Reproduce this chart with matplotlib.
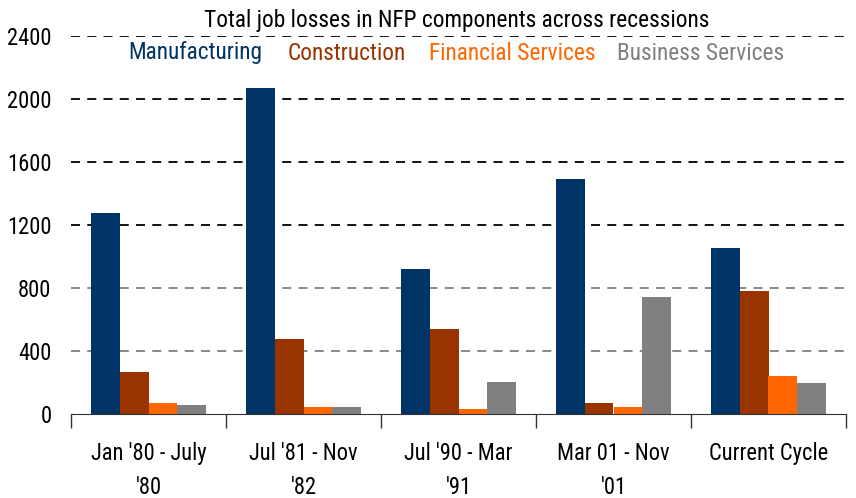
import matplotlib
matplotlib.use("Agg")
import matplotlib.pyplot as plt
from matplotlib import font_manager
from matplotlib.font_manager import FontProperties
import numpy as np

categories = ["Jan '80 - July\n'80", "Jul '81 - Nov\n'82", "Jul '90 - Mar\n'91", "Mar 01 - Nov\n'01", "Current Cycle"]
series_names = ["Manufacturing", "Construction", "Financial Services", "Business Services"]
manufacturing = [1275, 2070, 920, 1492, 1054]
construction = [267, 476, 540, 70, 781]
financial = [72, 44, 32, 44, 241]
business = [57, 44, 203, 743, 197]
yticks = [0, 400, 800, 1200, 1600, 2000, 2400]
colors = ["#003366", "#993300", "#FF6600", "#808080"]

# look for a condensed sans font (Arial Narrow look-alike)
cands = []
for f in font_manager.fontManager.ttflist:
    nm = f.name.lower()
    fn = f.fname.lower()
    if f.style != 'normal' or f.weight not in (400, 'normal', 'regular'):
        continue
    if 'serif' in nm and 'sans' not in nm:
        continue
    if 'mono' in nm or 'mono' in fn:
        continue
    if 'narrow' in nm or 'condensed' in nm or 'narrow' in fn or 'condensed' in fn \
            or str(f.stretch) in ('condensed', 'semi-condensed', '75', '87'):
        if 'bold' in fn or 'italic' in fn or 'oblique' in fn or 'light' in fn:
            continue
        cands.append(f)

def pri(f):
    nm = f.name.lower() + f.fname.lower()
    if 'liberation' in nm and 'narrow' in nm:
        return 0
    if 'roboto' in nm:
        return 1
    if 'open' in nm:
        return 2
    return 3

cands.sort(key=pri)
if cands:
    fp = FontProperties(fname=cands[0].fname)
    scale = 1.12
else:
    fp = FontProperties(family='Liberation Sans')
    scale = 1.0

def F(size):
    p = fp.copy()
    p.set_size(size * scale)
    return p

fig = plt.figure(figsize=(8.56, 4.98), dpi=100)
ax = fig.add_axes([71/856, 1-414/498, (846-71)/856, (414-36)/498])

data = [manufacturing, construction, financial, business]
x = np.arange(len(categories))
w = 0.187
for i, (vals, c, n) in enumerate(zip(data, colors, series_names)):
    ax.bar(x + (i - 1.5) * w, vals, width=w, color=c, label=n, zorder=3)

ax.set_ylim(0, 2400)
ax.set_xlim(-0.5, len(categories) - 0.5)
ax.set_yticks(yticks)
ax.set_yticklabels([str(t) for t in yticks], fontproperties=F(14.5))
ax.tick_params(axis='y', length=0, pad=14)
for t in yticks[1:]:
    ax.axhline(t, color='#000000' if t >= 1200 else '#808080', lw=1.3,
               ls=(0, (5, 4)), zorder=1)

ax.set_xticks(np.arange(len(categories) + 1) - 0.5)
ax.set_xticklabels([])
ax.tick_params(axis='x', which='major', length=10, width=1, color='#333333', direction='out')
ax.set_xticks(x, minor=True)
ax.set_xticklabels(categories, minor=True, fontproperties=F(14.5), linespacing=1.6)
ax.tick_params(axis='x', which='minor', length=0, pad=20)

for s in ['left', 'right', 'top']:
    ax.spines[s].set_visible(False)
ax.spines['bottom'].set_color('#333333')
ax.spines['bottom'].set_zorder(4)

fig.text(457/856, 1-20/498, "Total job losses in NFP components across recessions",
         ha='center', va='center', fontproperties=F(15))
xs = [195, 347, 512, 701]
for n, c, xx in zip(series_names, colors, xs):
    fig.text(xx/856, 1-53/498, n, color=c, ha='center', va='center', fontproperties=F(15))

fig.savefig("out.png", dpi=100)
